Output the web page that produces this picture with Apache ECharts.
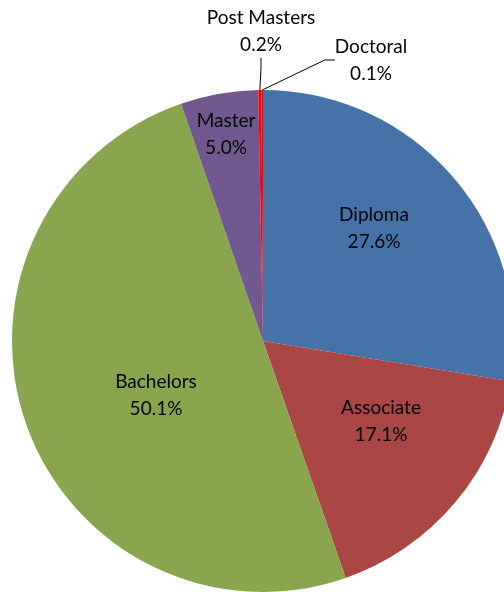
<!DOCTYPE html>
<html>
<head>
<meta charset="utf-8">
<script src="https://cdn.jsdelivr.net/npm/echarts@6/dist/echarts.min.js"></script>
<style>
html,body{margin:0;padding:0;background:#fff;}
#chart{width:504px;height:592px;}
</style>
</head>
<body>
<div id="chart"></div>
<script>
var categories = ['Diploma', 'Associate', 'Bachelors', 'Master', 'Post Masters', 'Doctoral'];
var percents = [27.6, 17.1, 50.1, 5.0, 0.2, 0.1];
var colors = ['#4572A7', '#AA4643', '#89A54E', '#71588F', '#FF0000', '#FF0000'];

// label centres (px)
var labelPos = [[374, 228], [381, 421], [156, 395], [226, 134], [261, 31], [371, 60]];

var pieData = [];
for (var i = 0; i < categories.length; i++) {
    var outside = i >= 4;
    pieData.push({
        name: categories[i],
        value: percents[i],
        itemStyle: { color: colors[i] },
        label: { position: outside ? 'outside' : 'inside' },
        labelLine: { show: outside }
    });
}

var chart = echarts.init(document.getElementById('chart'));
var option = {
    animation: false,
    series: [{
        type: 'pie',
        center: [263, 341],
        radius: 251,
        startAngle: 90,
        clockwise: true,
        avoidLabelOverlap: false,
        itemStyle: { borderWidth: 0 },
        label: {
            show: true,
            color: '#000',
            fontFamily: 'Lato, "Open Sans", sans-serif',
            fontSize: 19,
            lineHeight: 27,
            align: 'center',
            formatter: function (p) {
                return p.name + '\n' + p.value.toFixed(1) + '%';
            }
        },
        labelLine: {
            length: 20,
            length2: 10,
            lineStyle: { color: '#000', width: 1 }
        },
        labelLayout: function (params) {
            var pos = labelPos[params.dataIndex];
            return { x: pos[0], y: pos[1], align: 'center', verticalAlign: 'middle' };
        },
        data: pieData
    }]
};
chart.setOption(option);
</script>
</body>
</html>
